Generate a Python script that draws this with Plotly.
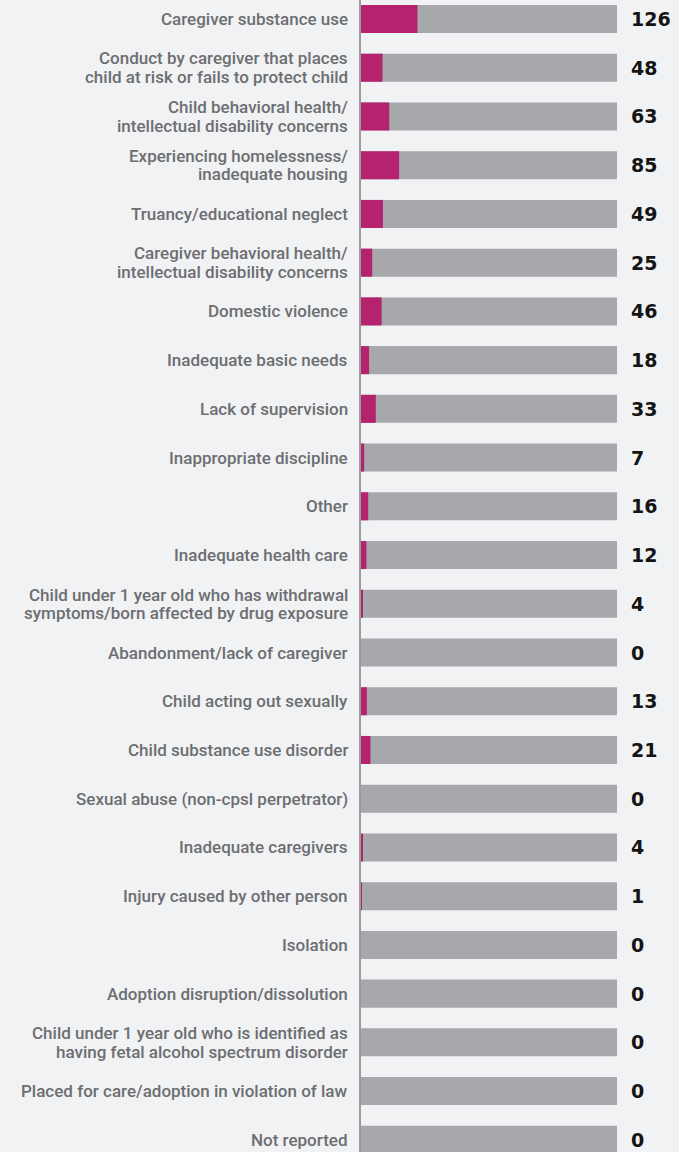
import plotly.graph_objects as go

categories = [
    "Caregiver substance use",
    "Conduct by caregiver that places<br>child at risk or fails to protect child",
    "Child behavioral health/<br>intellectual disability concerns",
    "Experiencing homelessness/<br>inadequate housing",
    "Truancy/educational neglect",
    "Caregiver behavioral health/<br>intellectual disability concerns",
    "Domestic violence",
    "Inadequate basic needs",
    "Lack of supervision",
    "Inappropriate discipline",
    "Other",
    "Inadequate health care",
    "Child under 1 year old who has withdrawal<br>symptoms/born affected by drug exposure",
    "Abandonment/lack of caregiver",
    "Child acting out sexually",
    "Child substance use disorder",
    "Sexual abuse (non-cpsl perpetrator)",
    "Inadequate caregivers",
    "Injury caused by other person",
    "Isolation",
    "Adoption disruption/dissolution",
    "Child under 1 year old who is identified as<br>having fetal alcohol spectrum disorder",
    "Placed for care/adoption in violation of law",
    "Not reported",
]
values = [126, 48, 63, 85, 49, 25, 46, 18, 33, 7, 16, 12, 4, 0, 13, 21, 0, 4, 1, 0, 0, 0, 0, 0]

total = sum(values)
idx = list(range(len(categories)))

fig = go.Figure()
fig.add_trace(go.Bar(
    y=idx, x=[total] * len(idx), orientation="h",
    marker=dict(color="#a7a8ab", line=dict(width=0)),
    width=0.575, hoverinfo="skip", showlegend=False,
))
fig.add_trace(go.Bar(
    y=idx, x=values, orientation="h",
    marker=dict(color="#b5226e", line=dict(width=0)),
    width=0.575, showlegend=False,
))

label_font = dict(family="Roboto", size=17, color="#6d6e71", weight=500)
line_gap = 18.5
for i, (c, v) in enumerate(zip(categories, values)):
    lines = c.split("<br>")
    n = len(lines)
    for k, ln in enumerate(lines):
        shift = ((n - 1) / 2 - k) * line_gap
        fig.add_annotation(
            x=0, y=i, xref="x", yref="y", text=ln, showarrow=False,
            xanchor="right", align="right", xshift=-11, yshift=shift,
            font=label_font,
        )
    fig.add_annotation(
        x=total, y=i, xref="x", yref="y", text=str(v), showarrow=False,
        xanchor="left", xshift=12,
        font=dict(family="DejaVu Sans", size=19, color="#141414", weight="bold"),
    )

fig.update_layout(
    barmode="overlay",
    width=679, height=1152,
    margin=dict(l=361, r=62, t=0, b=0),
    paper_bgcolor="#f1f2f4", plot_bgcolor="#f1f2f4",
    xaxis=dict(range=[0, total], visible=False, fixedrange=True),
    yaxis=dict(range=[23.25, -0.39], showticklabels=False, showgrid=False,
               zeroline=False, showline=True, linecolor="#9b9b9e", linewidth=2,
               ticks="", fixedrange=True),
)

fig.write_html(
    "out.html",
    config={"displayModeBar": False},
    post_script="document.body.style.margin='0';document.body.style.overflow='hidden';",
)
